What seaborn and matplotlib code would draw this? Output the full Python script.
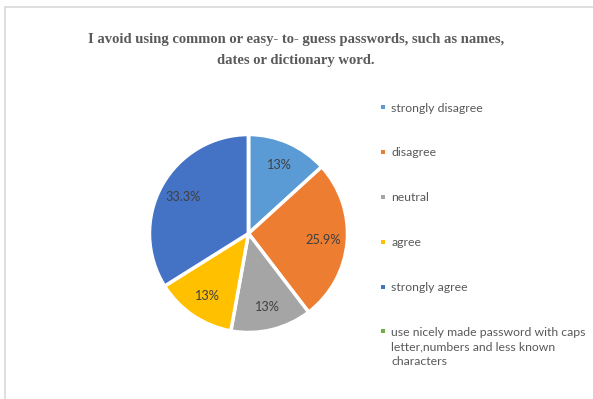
import matplotlib
matplotlib.use("Agg")
import matplotlib.pyplot as plt
import seaborn as sns
from matplotlib.lines import Line2D

# Survey responses
categories = [
    "strongly disagree",
    "disagree",
    "neutral",
    "agree",
    "strongly agree",
    "use nicely made password with caps\nletter,numbers and less known\ncharacters",
]
shares = [13.0, 25.9, 13.0, 13.0, 33.3, 0.0]
colors = ["#5B9BD5", "#ED7D31", "#A5A5A5", "#FFC000", "#4472C4", "#70AD47"]
title = ("I avoid using common or easy- to- guess passwords, such as names,\n"
         "dates or dictionary word.")

sns.set_theme(style="white")
plt.rcParams["font.family"] = ["Lato", "DejaVu Sans"]

W, H = 593, 399
fig = plt.figure(figsize=(W / 100, H / 100), dpi=100)
fig.patch.set_facecolor("white")

# chart-area border (top and left edges)
fig.add_artist(Line2D([5 / W, 5 / W], [0, 1 - 7 / H], color="#D9D9D9", lw=1.2,
                      transform=fig.transFigure))
fig.add_artist(Line2D([5 / W, 1], [1 - 7 / H, 1 - 7 / H], color="#D9D9D9", lw=1.2,
                      transform=fig.transFigure))

fig.text(296 / W, 1 - 50 / H, title, ha="center", va="center",
         fontsize=10.5, color="#5A5A5A", fontweight="bold",
         family=["Liberation Serif", "DejaVu Serif"], linespacing=1.8)

# pie
cx, cy, r = 248.5, 233.5, 99
pad = 1.03
ax = fig.add_axes([(cx - r * pad) / W, (H - cy - r * pad) / H,
                   2 * r * pad / W, 2 * r * pad / H])
value_iter = iter(shares)


def fmt(_pct):
    v = next(value_iter)
    return f"{v:g}%" if v > 0 else ""


wedges, texts, autotexts = ax.pie(
    shares, colors=colors, startangle=90, counterclock=False,
    autopct=fmt, pctdistance=0.76,
    wedgeprops=dict(edgecolor="white", linewidth=2.5),
    textprops=dict(color="#404040", fontsize=9.2),
)
ax.set_xlim(-pad, pad)
ax.set_ylim(-pad, pad)
ax.set_aspect("equal")
ax.axis("off")

# legend
handles = [Line2D([], [], ls="", marker="s", markersize=3.2,
                  markerfacecolor=c, markeredgewidth=0) for c in colors]
leg = fig.legend(handles, categories, loc="upper left",
                 bbox_to_anchor=(380 / W, 1 - 102.5 / H),
                 frameon=False, fontsize=8.8, labelcolor="#595959",
                 handlelength=0.55, handletextpad=0.36, labelspacing=2.77,
                 borderpad=0, borderaxespad=0)
# keep the marker of the wrapped entry beside its first line
rows = leg._legend_handle_box.get_children()[0].get_children()
rows[-1].align = "top"
for t in leg.get_texts():
    t.set_linespacing(1.38)

fig.savefig("out.png", dpi=100)
